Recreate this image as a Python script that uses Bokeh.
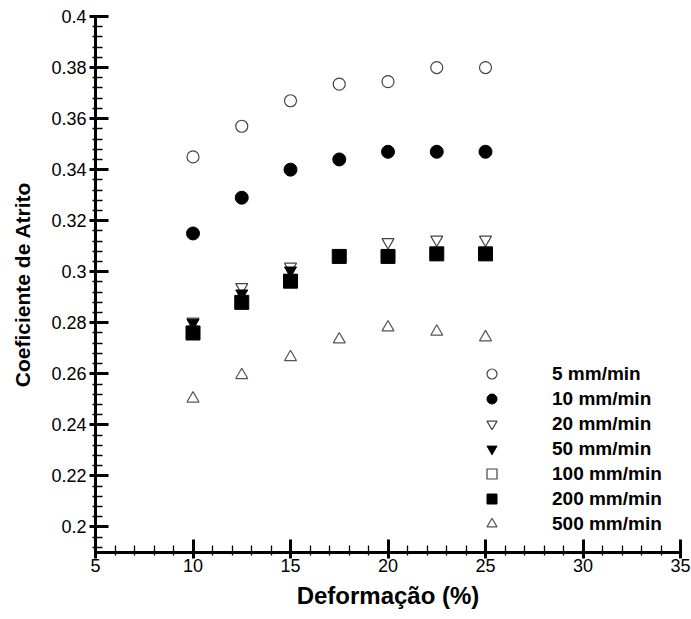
from bokeh.plotting import figure
from bokeh.models import (Range1d, FixedTicker, NumeralTickFormatter, Legend, LegendItem)
from bokeh.embed import file_html
from bokeh.resources import INLINE

# ---- data ----
deformacao = [10, 12.5, 15, 17.5, 20, 22.5, 25]
v5 = [0.345, 0.357, 0.367, 0.3735, 0.3745, 0.380, 0.380]
v10 = [0.315, 0.329, 0.340, 0.344, 0.347, 0.347, 0.347]
v20 = [0.2805, 0.294, 0.302, 0.307, 0.3116, 0.3126, 0.3126]
v50 = [0.280, 0.2915, 0.3005, 0.306, 0.306, 0.307, 0.307]
v100 = [0.277, 0.2885, 0.2965, 0.3065, 0.306, 0.307, 0.307]
v200 = [0.276, 0.288, 0.2963, 0.306, 0.306, 0.307, 0.307]
v500 = [0.2503, 0.2595, 0.2665, 0.2735, 0.2782, 0.2765, 0.2743]

labels = ["5 mm/min", "10 mm/min", "20 mm/min", "50 mm/min",
          "100 mm/min", "200 mm/min", "500 mm/min"]

x_major = [5, 10, 15, 20, 25, 30, 35]
x_minor = list(range(5, 36))
y_major = [0.2, 0.22, 0.24, 0.26, 0.28, 0.3, 0.32, 0.34, 0.36, 0.38, 0.4]
y_minor = [round(0.192 + 0.004 * i, 3) for i in range(53)]

FONT = "Liberation Sans"

p = figure(width=691, height=619, output_backend="svg", toolbar_location=None,
           x_range=Range1d(5, 35), y_range=Range1d(0.19, 0.4),
           min_border_left=95, min_border_right=11, min_border_top=16,
           min_border_bottom=67)
p.outline_line_color = None
p.xgrid.visible = False
p.ygrid.visible = False
p.background_fill_alpha = 0
p.border_fill_alpha = 0

styles = [
    dict(marker="circle", size=12, fill_color=None, line_color="#444444", line_width=1.2),
    dict(marker="circle", size=13, fill_color="black", line_color="black", line_width=1),
    dict(marker="inverted_triangle", size=12, fill_color="white", line_color="#444444", line_width=1.2),
    dict(marker="inverted_triangle", size=12, fill_color="black", line_color="black", line_width=1),
    dict(marker="square", size=9, fill_color="white", line_color="#444444", line_width=1.2),
    dict(marker="square", size=14, fill_color="black", line_color="black", line_width=1),
    dict(marker="triangle", size=12, fill_color=None, line_color="#555555", line_width=1.2),
]
series = [v5, v10, v20, v50, v100, v200, v500]

items = []
for lab, ys, st in zip(labels, series, styles):
    r = p.scatter(deformacao, ys, **st)
    items.append(LegendItem(label=lab, renderers=[r]))

legend = Legend(items=items, location=(384, 16), margin=0, padding=0,
                glyph_width=25, glyph_height=25, label_height=25, spacing=0,
                label_standoff=48, border_line_color=None,
                background_fill_alpha=0,
                label_text_font=FONT, label_text_font_size="19px",
                label_text_font_style="bold", label_text_color="black")
p.add_layout(legend)

AX = "black"
p.axis.axis_line_width = 3
p.axis.axis_line_color = AX
p.axis.major_tick_in = 13
p.axis.major_tick_out = 6
p.axis.major_tick_line_width = 3
p.axis.major_tick_line_color = AX
p.axis.minor_tick_in = 7
p.axis.minor_tick_out = 3
p.axis.minor_tick_line_width = 1.3
p.axis.minor_tick_line_color = AX
p.axis.major_label_text_font = FONT
p.axis.major_label_text_font_size = "18px"
p.axis.major_label_text_color = "black"
p.axis.axis_label_text_font = FONT
p.axis.axis_label_text_font_style = "bold"
p.axis.axis_label_text_color = "black"
p.xaxis.axis_label_text_font_size = "24px"
p.yaxis.axis_label_text_font_size = "21px"

p.xaxis.ticker = FixedTicker(ticks=x_major, minor_ticks=x_minor)
p.yaxis.ticker = FixedTicker(ticks=y_major, minor_ticks=y_minor)
p.yaxis.formatter = NumeralTickFormatter(format="0.[00]")
p.xaxis.axis_label = "Deformação (%)"
p.yaxis.axis_label = "Coeficiente de Atrito"
p.xaxis.major_label_standoff = 0
p.yaxis.major_label_standoff = 3
p.xaxis.axis_label_standoff = 7
p.yaxis.axis_label_standoff = 14

open("out.html", "w").write(file_html(p, INLINE))
